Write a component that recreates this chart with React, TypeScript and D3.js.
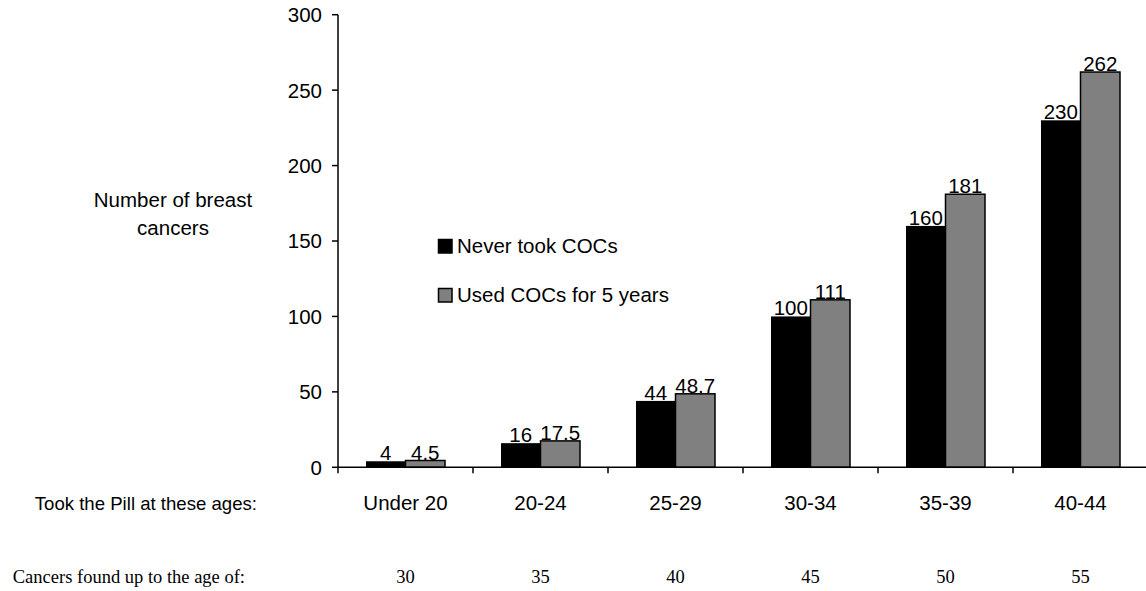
import React from "react";
import * as d3 from "d3";

const categories = ["Under 20", "20-24", "25-29", "30-34", "35-39", "40-44"];
const neverTook = [4, 16, 44, 100, 160, 230];
const usedCOCs = [4.5, 17.5, 48.7, 111, 181, 262];
const foundAges = ["30", "35", "40", "45", "50", "55"];
const yTicks = [0, 50, 100, 150, 200, 250, 300];
const seriesNames = ["Never took COCs", "Used COCs for 5 years"];
const seriesColors = ["#000000", "#808080"];

const W = 1146;
const H = 591;
const left = 338;
const right = 1148;
const top = 14.7;
const bottom = 467.3;

export default function App() {
  const x = d3.scaleBand<string>().domain(categories).range([left, right]).paddingInner(0).paddingOuter(0);
  const y = d3.scaleLinear().domain([0, 300]).range([bottom, top]);
  const bw = 39.5;
  const font = "Arial, 'Liberation Sans', sans-serif";
  const serif = "'Liberation Serif', 'Times New Roman', serif";
  const fs = 20.5;
  const series = [neverTook, usedCOCs];
  const barX = (i: number, k: number) => (x(categories[i]) as number) + x.bandwidth() / 2 - bw + k * bw;

  return (
    <svg width={W} height={H} style={{ position: "absolute", left: 0, top: 0 }} fontFamily={font}>
      {/* bars */}
      {series.map((s, k) =>
        s.map((v, i) => (
          <rect
            key={`b${k}-${i}`}
            x={barX(i, k)}
            y={y(v)}
            width={bw}
            height={bottom - y(v)}
            fill={seriesColors[k]}
            stroke="#000"
            strokeWidth={k === 1 ? 1.5 : 0}
          />
        ))
      )}
      {/* value labels */}
      {series.map((s, k) =>
        s.map((v, i) => (
          <text key={`v${k}-${i}`} x={barX(i, k) + bw / 2} y={y(v) - 1} textAnchor="middle" fontSize={fs}>
            {String(v)}
          </text>
        ))
      )}
      {/* y axis */}
      <line x1={left} x2={left} y1={top} y2={bottom} stroke="#000" strokeWidth={1.5} />
      {yTicks.map((t) => (
        <g key={t}>
          <line x1={left - 6} x2={left} y1={y(t)} y2={y(t)} stroke="#000" strokeWidth={1.5} />
          <text x={left - 16} y={y(t)} dy="0.36em" textAnchor="end" fontSize={fs}>
            {t}
          </text>
        </g>
      ))}
      {/* x axis */}
      <line x1={left} x2={right} y1={bottom} y2={bottom} stroke="#000" strokeWidth={1.5} />
      {categories.map((c) => (
        <line
          key={"t" + c}
          x1={x(c) as number}
          x2={x(c) as number}
          y1={bottom}
          y2={bottom + 6}
          stroke="#000"
          strokeWidth={1.5}
        />
      ))}
      {categories.map((c) => (
        <text key={"l" + c} x={(x(c) as number) + x.bandwidth() / 2} y={503} dy="0.36em" textAnchor="middle" fontSize={fs}>
          {c}
        </text>
      ))}
      {foundAges.map((a, i) => (
        <text
          key={"a" + a}
          x={(x(categories[i]) as number) + x.bandwidth() / 2}
          y={576}
          dy="0.36em"
          textAnchor="middle"
          fontSize={18.5}
          fontFamily={serif}
        >
          {a}
        </text>
      ))}
      <text x={257} y={503} dy="0.36em" textAnchor="end" fontSize={18.6}>
        Took the Pill at these ages:
      </text>
      <text x={245} y={576} dy="0.36em" textAnchor="end" fontSize={18.5} fontFamily={serif}>
        Cancers found up to the age of:
      </text>
      {/* y title */}
      <text x={173} y={200} dy="0.36em" textAnchor="middle" fontSize={fs}>
        Number of breast
      </text>
      <text x={173} y={228} dy="0.36em" textAnchor="middle" fontSize={fs}>
        cancers
      </text>
      {/* legend */}
      {seriesNames.map((n, k) => (
        <g key={n} transform={`translate(438, ${239 + k * 49})`}>
          <rect x={0.5} y={0.5} width={13.5} height={13.5} fill={seriesColors[k]} stroke="#000" strokeWidth={1.5} />
          <text x={19} y={7} dy="0.36em" fontSize={fs}>
            {n}
          </text>
        </g>
      ))}
    </svg>
  );
}
